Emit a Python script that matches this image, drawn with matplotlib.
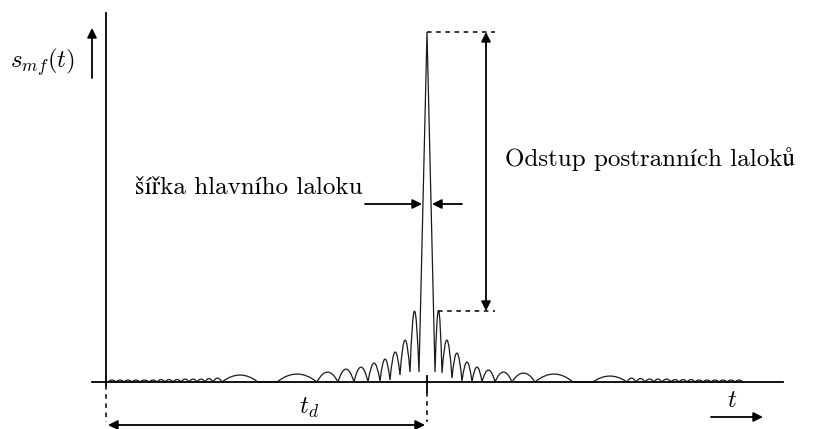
import matplotlib
matplotlib.use("Agg")
import matplotlib.pyplot as plt
from matplotlib.path import Path
from matplotlib.patches import PathPatch

plt.rcParams['mathtext.fontset'] = 'cm'

# time axis in arbitrary units (axis origin = 0, delay t_d = 321),
# amplitude in arbitrary units (main peak = 350)
null_t = [2, 10, 18, 26, 34, 43, 51, 59, 67, 75, 83, 91, 99, 107, 116,
          152, 171, 211, 232, 248, 262, 274, 284, 294, 304, 313,
          329, 336, 346, 356, 366, 376, 389, 406, 429, 467, 487,
          521, 530, 539, 548, 556, 565, 573, 581, 589, 597, 605, 613, 621, 629, 637]
null_a = [0, 0, 0, 0, 0, 0, 0, 0, 0, 0, 0, 0, 0, 0, 0,
          0, 0, 0, 0, 0, 0, 1, 2, 7, 10, 10,
          10, 9, 4, 1, 0, 0, 0, 0, 0, 0, 0,
          0, 0, 0, 0, 0, 0, 0, 0, 0, 0, 0, 0, 0, 0, 0]
peak_a = [2, 2, 2, 2, 2, 2, 2.5, 2.5, 2.5, 3, 3, 3, 3.5, 4,
          7, 0, 8, 10, 13, 15, 19, 23, 30, 42, 71,
          350,
          72, 42, 29, 20, 15, 12, 10, 9, 8, 0, 6,
          4, 3.5, 3, 3, 3, 2.5, 2.5, 2.5, 2, 2, 2, 2, 2, 2]

t_delay = 321
peak_top = 350
side_top = 71

fig = plt.figure(figsize=(8.29, 4.29), dpi=100)
ax = fig.add_axes([0, 0, 1, 1])
ax.set_xlim(-106, 723)
ax.set_ylim(-47, 382)
ax.axis('off')

# matched filter output
main = peak_a.index(max(peak_a))
verts = [(null_t[0], null_a[0])]
codes = [Path.MOVETO]
for i in range(len(peak_a)):
    t0, t1 = null_t[i], null_t[i + 1]
    a0, a1 = null_a[i], null_a[i + 1]
    tm = (t0 + t1) / 2
    if i == main:
        verts += [(tm, peak_a[i]), (t1, a1)]
        codes += [Path.LINETO, Path.LINETO]
    else:
        verts += [(tm, 2 * peak_a[i] - (a0 + a1) / 2), (t1, a1)]
        codes += [Path.CURVE3, Path.CURVE3]
ax.add_patch(PathPatch(Path(verts, codes), fill=False, lw=0.9, ec='#1a1a1a'))

# axes
ax.plot([-14, 677], [0, 0], color='black', lw=1.3)
ax.plot([0, 0], [-3, 369], color='black', lw=1.3)
ax.plot([t_delay, t_delay], [6, -10], color='black', lw=1.3)

dots = dict(color='black', lw=1.1, ls=(0, (3, 3)))
ax.plot([0, 0], [-3, -40], **dots)
ax.plot([t_delay, t_delay], [-10, -40], **dots)
ax.plot([t_delay, 389], [peak_top, peak_top], **dots)
ax.plot([332, 389], [side_top, side_top], **dots)

arr = dict(arrowstyle='-|>', color='black', lw=1.3, mutation_scale=14,
           shrinkA=0, shrinkB=0)
arr2 = dict(arrowstyle='<|-|>', color='black', lw=1.3, mutation_scale=14,
            shrinkA=0, shrinkB=0)

# t_d span
ax.annotate('', xy=(2, -43), xytext=(319, -43), arrowprops=arr2)
ax.text(203, -26, r'$t_d$', fontsize=18, ha='center', va='center')

# time arrow
ax.annotate('', xy=(657, -35), xytext=(605, -35), arrowprops=arr)
ax.text(626, -18, r'$t$', fontsize=18, ha='center', va='center')

# y label
ax.annotate('', xy=(-14, 354), xytext=(-14, 304), arrowprops=arr)
ax.text(-63, 320, r'$s_{mf}(t)$', fontsize=18, ha='center', va='center')

# sidelobe level
ax.annotate('', xy=(380, peak_top), xytext=(380, side_top), arrowprops=arr2)
ax.text(399, 216, 'Odstup postranních laloků', fontsize=18,
        family=['cmr10', 'STIXGeneral'], ha='left', va='baseline')

# main lobe width
ax.annotate('', xy=(316, 178), xytext=(259, 178), arrowprops=arr)
ax.annotate('', xy=(326, 178), xytext=(356, 178), arrowprops=arr)
ax.text(29, 188, 'šířka hlavního laloku', fontsize=18,
        family=['cmr10', 'STIXGeneral'], ha='left', va='baseline')

fig.savefig('out.png', dpi=100)
